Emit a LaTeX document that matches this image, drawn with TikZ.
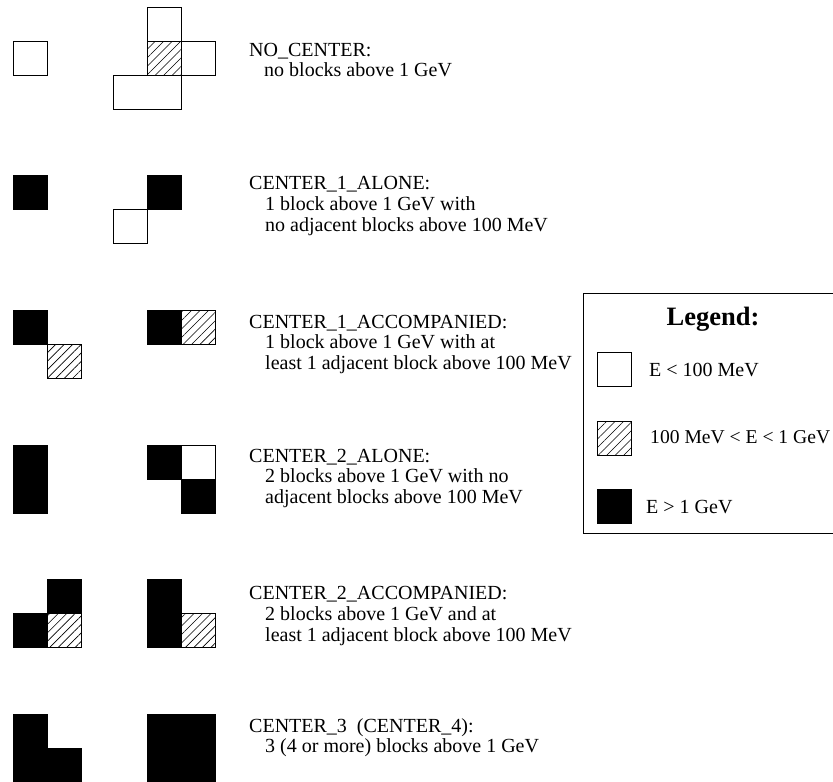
\documentclass[tikz,border=0pt]{standalone}
\usepackage{fontspec}
\setmainfont{Liberation Serif}
\usetikzlibrary{patterns.meta}
\tikzset{
  blk/.style={draw=black, line width=0.8pt},
  lowblk/.style={blk, fill=white},
  midblk/.style={blk, pattern={Lines[angle=45,distance=6pt,line width=0.6pt]}},
  highblk/.style={blk, fill=black},
  lbl/.style={anchor=base west, inner sep=0pt, font=\fontsize{20}{21}\selectfont},
  legtitle/.style={anchor=base, inner sep=0pt, font=\fontsize{26.5}{28}\selectfont\bfseries},
}
\newcommand{\blkat}[3]{\path[#1] (#2,#3) rectangle ++(34,34);}
\begin{document}
\begin{tikzpicture}[x=1pt,y=-1pt]
\clip (0,0) rectangle (833,782);
\fill[white] (0,0) rectangle (833,782);

% --- NO_CENTER ---
\blkat{lowblk}{13}{41}
\blkat{lowblk}{147}{7}
\blkat{midblk}{147}{41}
\blkat{lowblk}{181}{41}
\path[lowblk] (113,75) rectangle (181,109);
\node[lbl] (t1a) at (249,56) {NO\_CENTER:};
\node[lbl] (t1b) at (264,76) {no blocks above 1 GeV};

% --- CENTER_1_ALONE ---
\blkat{highblk}{13}{175}
\blkat{highblk}{147}{175}
\blkat{lowblk}{113}{209}
\node[lbl] (t2a) at (249,189) {CENTER\_1\_ALONE:};
\node[lbl] (t2b) at (265,210) {1 block above 1 GeV with};
\node[lbl] (t2c) at (265,231) {no adjacent blocks above 100 MeV};

% --- CENTER_1_ACCOMPANIED ---
\blkat{highblk}{13}{310}
\blkat{midblk}{47}{344}
\blkat{highblk}{147}{310}
\blkat{midblk}{181}{310}
\node[lbl] (t3a) at (249,328) {CENTER\_1\_ACCOMPANIED:};
\node[lbl] (t3b) at (265,348) {1 block above 1 GeV with at};
\node[lbl] (t3c) at (265,369) {least 1 adjacent block above 100 MeV};

% --- CENTER_2_ALONE ---
\blkat{highblk}{13}{445}
\blkat{highblk}{13}{479}
\blkat{highblk}{147}{445}
\blkat{lowblk}{181}{445}
\blkat{highblk}{181}{479}
\node[lbl] (t4a) at (249,462) {CENTER\_2\_ALONE:};
\node[lbl] (t4b) at (265,482) {2 blocks above 1 GeV with no};
\node[lbl] (t4c) at (265,503) {adjacent blocks above 100 MeV};

% --- CENTER_2_ACCOMPANIED ---
\blkat{highblk}{47}{579}
\blkat{highblk}{13}{613}
\blkat{midblk}{47}{613}
\blkat{highblk}{147}{579}
\blkat{highblk}{147}{613}
\blkat{midblk}{181}{613}
\node[lbl] (t5a) at (249,599) {CENTER\_2\_ACCOMPANIED:};
\node[lbl] (t5b) at (265,620) {2 blocks above 1 GeV and at};
\node[lbl] (t5c) at (265,641) {least 1 adjacent block above 100 MeV};

% --- CENTER_3 / CENTER_4 ---
\blkat{highblk}{13}{714}
\blkat{highblk}{13}{748}
\blkat{highblk}{47}{748}
\blkat{highblk}{147}{714}
\blkat{highblk}{181}{714}
\blkat{highblk}{147}{748}
\blkat{highblk}{181}{748}
\node[lbl] (t6a) at (249,732) {CENTER\_3~ (CENTER\_4):};
\node[lbl] (t6b) at (265,752) {3 (4 or more) blocks above 1 GeV};

% --- legend ---
\draw[line width=0.8pt] (850,293) -- (583,293) -- (583,533) -- (850,533);
\node[legtitle] (legt) at (713,325) {Legend:};
\blkat{lowblk}{597}{352}
\node[lbl] (leg1) at (649,376) {E < 100 MeV};
\blkat{midblk}{597}{421}
\node[lbl, font=\fontsize{19.6}{21}\selectfont] (leg2) at (650,443) {100 MeV < E < 1 GeV};
\blkat{highblk}{597}{489}
\node[lbl] (leg3) at (646,513) {E > 1 GeV};
\end{tikzpicture}
\end{document}
